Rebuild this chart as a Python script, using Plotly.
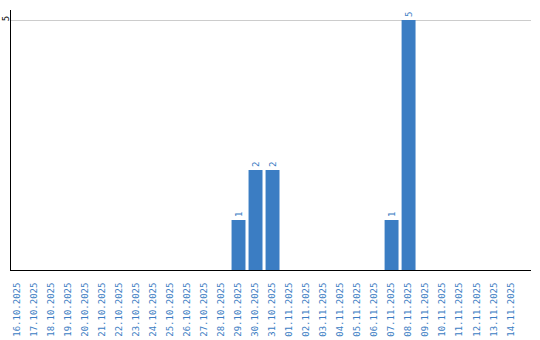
import plotly.graph_objects as go

dates = ["16.10.2025","17.10.2025","18.10.2025","19.10.2025","20.10.2025","21.10.2025",
         "22.10.2025","23.10.2025","24.10.2025","25.10.2025","26.10.2025","27.10.2025",
         "28.10.2025","29.10.2025","30.10.2025","31.10.2025","01.11.2025","02.11.2025",
         "03.11.2025","04.11.2025","05.11.2025","06.11.2025","07.11.2025","08.11.2025",
         "09.11.2025","10.11.2025","11.11.2025","12.11.2025","13.11.2025","14.11.2025"]
counts = [0,0,0,0,0,0,0,0,0,0,0,0,0,1,2,2,0,0,0,0,0,0,1,5,0,0,0,0,0,0]
y_ticks = [5]

blue = "#3b7dc3"
mono = "DejaVu Sans Mono"
labels = [str(v) if v else "" for v in counts]

fig = go.Figure(go.Bar(
    x=list(range(len(dates))), y=counts, marker_color=blue, marker_line_width=0,
    text=labels, textposition="outside", textangle=-90,
    textfont=dict(family=mono, size=9, color=blue),
    cliponaxis=False,
))
fig.update_layout(
    width=540, height=340, margin=dict(l=11, r=9, t=10, b=70),
    paper_bgcolor="white", plot_bgcolor="white", bargap=0.18, showlegend=False,
    font=dict(family=mono, size=9),
)
fig.update_xaxes(
    tickmode="array", tickvals=list(range(len(dates))), ticktext=dates,
    tickangle=-90, tickfont=dict(family=mono, size=9, color=blue),
    range=[-0.38, 30.2], showgrid=False, showline=True, linecolor="black", linewidth=1,
    ticks="", zeroline=False, automargin=False, ticklabelstandoff=8,
)
fig.update_yaxes(
    range=[0, 5.2], tickmode="array", tickvals=y_ticks, ticktext=[str(t) for t in y_ticks],
    tickangle=-90, tickfont=dict(family=mono, size=9, color="black"),
    showgrid=True, gridcolor="#cccccc", gridwidth=1, showline=True, linecolor="black",
    linewidth=1, zeroline=False, ticks="", automargin=False, ticklabelstandoff=-3,
)
fig.write_html("out.html")
